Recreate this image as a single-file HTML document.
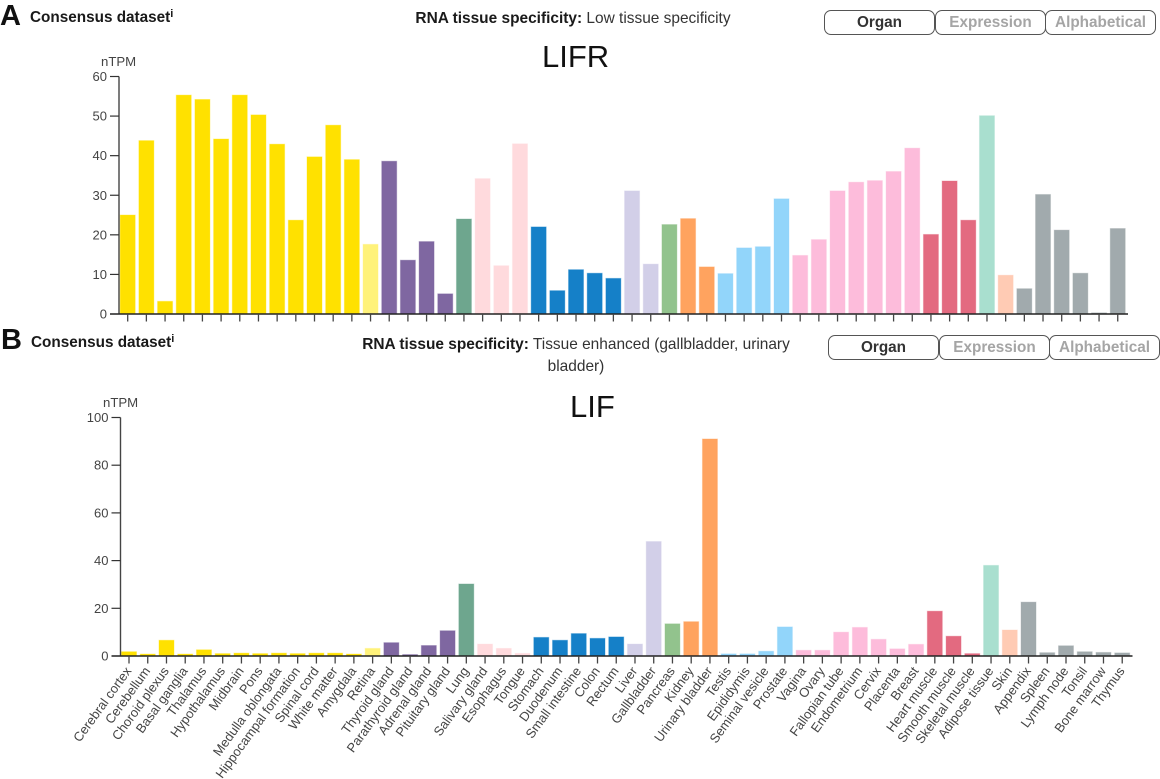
<!DOCTYPE html>
<html lang="en">
<head>
<meta charset="utf-8">
<title>LIFR and LIF RNA tissue expression</title>
<style>
html,body{margin:0;padding:0;background:#fff;}
body{width:1160px;height:779px;overflow:hidden;position:relative;font-family:"Liberation Sans",sans-serif;}
#figure{position:absolute;left:0;top:0;width:1160px;height:779px;filter:blur(0.35px);}
svg{position:absolute;left:0;top:0;}
text{font-family:"Liberation Sans",sans-serif;}
.abs{position:absolute;white-space:nowrap;}
.letter{font-weight:bold;font-size:29px;color:#111;line-height:30px;}
.ds{font-weight:bold;font-size:15.3px;color:#1a1a1a;line-height:18px;}
.ds sup{font-size:11px;line-height:0;vertical-align:5px;}
.spec{font-size:15.45px;color:#333;line-height:22px;text-align:center;}
.spec b{color:#1a1a1a;}
.gene{font-size:31px;color:#111;line-height:34px;}
.btn{box-sizing:border-box;border:1.5px solid #555;border-radius:7px;background:#fff;height:25px;width:111px;font:bold 15.3px/22px "Liberation Sans",sans-serif;text-align:center;color:#a5a5a5;padding:0;}
.btn.on{color:#333;}
</style>
</head>
<body>
<div id="figure">

<div class="abs letter" style="left:0;top:1px">A</div>
<div class="abs ds" style="left:30px;top:9px">Consensus dataset<sup>i</sup></div>
<div class="abs spec" style="left:350px;top:8px;width:446px"><b>RNA tissue specificity:</b> Low tissue specificity</div>
<div class="abs gene" style="left:542px;top:40px">LIFR</div>
<button class="abs btn on" style="left:824px;top:10px">Organ</button>
<button class="abs btn" style="left:935px;top:10px">Expression</button>
<button class="abs btn" style="left:1045px;top:10px">Alphabetical</button>

<div class="abs letter" style="left:1px;top:325px">B</div>
<div class="abs ds" style="left:31px;top:334px">Consensus dataset<sup>i</sup></div>
<div class="abs spec" style="left:350px;top:334px;width:452px"><b>RNA tissue specificity:</b> Tissue enhanced (gallbladder, urinary<br>bladder)</div>
<div class="abs gene" style="left:570px;top:390px">LIF</div>
<button class="abs btn on" style="left:828px;top:335px">Organ</button>
<button class="abs btn" style="left:939px;top:335px">Expression</button>
<button class="abs btn" style="left:1049px;top:335px">Alphabetical</button>

<svg id="chart" width="1160" height="779" viewBox="0 0 1160 779" xmlns="http://www.w3.org/2000/svg"></svg>
</div>

<script>
const tissues = ["Cerebral cortex","Cerebellum","Choroid plexus","Basal ganglia","Thalamus","Hypothalamus","Midbrain","Pons","Medulla oblongata","Hippocampal formation","Spinal cord","White matter","Amygdala","Retina","Thyroid gland","Parathyroid gland","Adrenal gland","Pituitary gland","Lung","Salivary gland","Esophagus","Tongue","Stomach","Duodenum","Small intestine","Colon","Rectum","Liver","Gallbladder","Pancreas","Kidney","Urinary bladder","Testis","Epididymis","Seminal vesicle","Prostate","Vagina","Ovary","Fallopian tube","Endometrium","Cervix","Placenta","Breast","Heart muscle","Smooth muscle","Skeletal muscle","Adipose tissue","Skin","Appendix","Spleen","Lymph node","Tonsil","Bone marrow","Thymus"];
const lifrValues = [25,43.8,3.2,55.3,54.2,44.2,55.3,50.3,42.9,23.7,39.7,47.7,39,17.6,38.6,13.6,18.3,5.1,24,34.2,12.2,43,22,5.9,11.2,10.3,9,31.1,12.6,22.6,24.1,11.9,10.2,16.7,17,29.1,14.8,18.8,31.1,33.3,33.7,36,41.9,20.1,33.6,23.7,50.1,9.8,6.4,30.2,21.2,10.3,0.3,21.6];
const lifValues = [1.8,0.8,6.6,0.8,2.6,1,1.2,1,1.2,1,1.2,1.2,0.8,3.2,5.6,0.6,4.4,10.6,30.2,5,3.2,1.1,7.8,6.6,9.4,7.4,8,5,48,13.5,14.4,91,0.9,0.9,2,12.2,2.4,2.4,10,12,7,3,4.9,18.8,8.3,1,38,10.9,22.6,1.4,4.3,1.8,1.5,1.3];
const tissueColors = ["#ffe100","#ffe100","#ffe100","#ffe100","#ffe100","#ffe100","#ffe100","#ffe100","#ffe100","#ffe100","#ffe100","#ffe100","#ffe100","#fff27a","#7f67a1","#7f67a1","#7f67a1","#7f67a1","#6ea68e","#ffdadd","#ffdadd","#ffdadd","#1580c8","#1580c8","#1580c8","#1580c8","#1580c8","#d2cfe8","#d2cfe8","#92c38d","#ffa35f","#ffa35f","#92d5fa","#92d5fa","#92d5fa","#92d5fa","#fdbcdb","#fdbcdb","#fdbcdb","#fdbcdb","#fdbcdb","#fdbcdb","#fdbcdb","#e36a80","#e36a80","#e36a80","#a9dfcf","#ffcbb4","#a1aaad","#a1aaad","#a1aaad","#a1aaad","#a1aaad","#a1aaad"];
const lifrTicks = [0,10,20,30,40,50,60];
const lifTicks = [0,20,40,60,80,100];

const NS = "http://www.w3.org/2000/svg";
const svg = document.getElementById("chart");

function make(tag, attrs, parent) {
  const el = document.createElementNS(NS, tag);
  for (const k in attrs) el.setAttribute(k, attrs[k]);
  parent.appendChild(el);
  return el;
}

function drawPanel(prefix, values, ticks, cfg) {
  const g = make("g", {}, svg);
  
  
  const yScale = v => cfg.y0 + (cfg.yTop - cfg.y0) * v / ticks[ticks.length - 1];
  const xScale = i => cfg.x0 + cfg.step * i;

  values.forEach((v, i) => {
    const r = make("rect", {
      x: xScale(i) - 7.5, y: yScale(v), width: 15, height: cfg.y0 - yScale(v),
      fill: tissueColors[i], stroke: tissueColors[i], "stroke-opacity": 0.35, "stroke-width": 1
    }, g);
    
    
  });

  const yAxis = make("line", {x1: cfg.axisX, x2: cfg.axisX, y1: yScale(ticks[ticks.length - 1]), y2: cfg.y0, stroke: "#444", "stroke-width": 1.4}, g);
  
  
  const xAxis = make("line", {x1: cfg.axisX - 9, x2: cfg.xEnd, y1: cfg.y0, y2: cfg.y0, stroke: "#222", "stroke-width": 1.4}, g);
  
  

  ticks.forEach(t => {
    const tm = make("line", {x1: cfg.axisX - 9, x2: cfg.axisX, y1: yScale(t), y2: yScale(t), stroke: "#333", "stroke-width": 1.2}, g);
    
    
    const tl = make("text", {x: cfg.axisX - 12, y: yScale(t) + 4.5, "text-anchor": "end", "font-size": 13, fill: "#444"}, g);
    tl.textContent = t;
    
    
  });

  const unit = make("text", {x: cfg.unitX, y: cfg.unitY, "font-size": 13.2, fill: "#444"}, g);
  unit.textContent = "nTPM";
  
  

  tissues.forEach((name, i) => {
    const x = xScale(i);
    const tm = make("line", {x1: x, x2: x, y1: cfg.y0, y2: cfg.y0 + 7.5, stroke: "#444", "stroke-width": 1.3}, g);
    
    
    if (cfg.labels) {
      const lab = make("text", {
        "text-anchor": "end", "font-size": 13, fill: "#444",
        transform: "translate(" + (x + 3) + "," + (cfg.y0 + 15) + ") rotate(-54)"
      }, g);
      lab.textContent = name;
      
      
    }
  });
}

drawPanel("lifr", lifrValues, lifrTicks, {x0: 127.7, step: 18.68, y0: 314, yTop: 76.5, axisX: 119, xEnd: 1128, unitX: 101, unitY: 66, labels: false});
drawPanel("lif", lifValues, lifTicks, {x0: 129, step: 18.74, y0: 656, yTop: 417.5, axisX: 120.5, xEnd: 1132.5, unitX: 103, unitY: 407, labels: true});
</script>
</body>
</html>
